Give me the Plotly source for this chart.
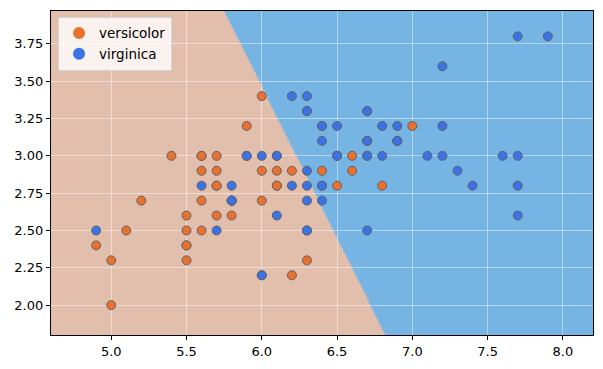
import numpy as np
import plotly.graph_objects as go

# Iris: sepal length / sepal width
versicolor_x = [7.0, 6.4, 6.9, 5.5, 6.5, 5.7, 6.3, 4.9, 6.6, 5.2, 5.0, 5.9, 6.0, 6.1, 5.6, 6.7, 5.6, 5.8, 6.2, 5.6,
                5.9, 6.1, 6.3, 6.1, 6.4, 6.6, 6.8, 6.7, 6.0, 5.7, 5.5, 5.5, 5.8, 6.0, 5.4, 6.0, 6.7, 6.3, 5.6, 5.5,
                5.5, 6.1, 5.8, 5.0, 5.6, 5.7, 5.7, 6.2, 5.1, 5.7]
versicolor_y = [3.2, 3.2, 3.1, 2.3, 2.8, 2.8, 3.3, 2.4, 2.9, 2.7, 2.0, 3.0, 2.2, 2.9, 2.9, 3.1, 3.0, 2.7, 2.2, 2.5,
                3.2, 2.8, 2.5, 2.8, 2.9, 3.0, 2.8, 3.0, 2.9, 2.6, 2.4, 2.4, 2.7, 2.7, 3.0, 3.4, 3.1, 2.3, 3.0, 2.5,
                2.6, 3.0, 2.6, 2.3, 2.7, 3.0, 2.9, 2.9, 2.5, 2.8]
virginica_x = [6.3, 5.8, 7.1, 6.3, 6.5, 7.6, 4.9, 7.3, 6.7, 7.2, 6.5, 6.4, 6.8, 5.7, 5.8, 6.4, 6.5, 7.7, 7.7, 6.0,
               6.9, 5.6, 7.7, 6.3, 6.7, 7.2, 6.2, 6.1, 6.4, 7.2, 7.4, 7.9, 6.4, 6.3, 6.1, 7.7, 6.3, 6.4, 6.0, 6.9,
               6.7, 6.9, 5.8, 6.8, 6.7, 6.7, 6.3, 6.5, 6.2, 5.9]
virginica_y = [3.3, 2.7, 3.0, 2.9, 3.0, 3.0, 2.5, 2.9, 2.5, 3.6, 3.2, 2.7, 3.0, 2.5, 2.8, 3.2, 3.0, 3.8, 2.6, 2.2,
               3.2, 2.8, 2.8, 2.7, 3.3, 3.2, 2.8, 3.0, 2.8, 3.0, 2.8, 3.8, 2.8, 2.8, 2.6, 3.0, 3.4, 3.1, 3.0, 3.1,
               3.1, 3.1, 2.7, 3.2, 3.3, 3.0, 2.5, 3.0, 3.4, 3.0]

class_names = ["versicolor", "virginica"]

# linear decision function: w0 + w1*x + w2*y > 0 -> virginica
w0, w1, w2 = -7.70, 1.0, 0.4926
mesh_step = 0.01
x_min, x_max = 4.6, 8.2
y_min, y_max = 1.8, 3.97

x_ticks = [5.0, 5.5, 6.0, 6.5, 7.0, 7.5, 8.0]
y_ticks = [2.00, 2.25, 2.50, 2.75, 3.00, 3.25, 3.50, 3.75]

region_colors = ["#E2BEAC", "#75B4E3"]
point_colors = ["#E8712F", "#3A72E8"]

# staircase boundary of the virginica region from the mesh classification
gx = np.arange(x_min, x_max + mesh_step, mesh_step)
gy = np.arange(y_min, y_max + mesh_step, mesh_step)
pts = []
for yv in gy:
    pos = np.where(w0 + w1 * gx + w2 * yv > 0)[0]
    xb = gx[pos[0]] if len(pos) else x_max
    pts.append((xb, yv))
    pts.append((xb, yv + mesh_step))
path = f"M {x_max + 1},{y_min - 1} L {pts[0][0]},{y_min - 1} "
path += " ".join(f"L {px:.4f},{py:.4f}" for px, py in pts)
path += f" L {pts[-1][0]},{y_max + 1} L {x_max + 1},{y_max + 1} Z"

fig = go.Figure()

for name, xs, ys, c in [(class_names[0], versicolor_x, versicolor_y, point_colors[0]),
                        (class_names[1], virginica_x, virginica_y, point_colors[1])]:
    fig.add_trace(go.Scatter(
        x=xs, y=ys, mode="markers", name=name, showlegend=False,
        marker=dict(size=9, color=c, line=dict(color="#626262", width=1)),
    ))
# legend entries (plain dots, no outline)
for name, c in zip(class_names, point_colors):
    fig.add_trace(go.Scatter(
        x=[None], y=[None], mode="markers", name=name,
        marker=dict(size=9, color=c, line=dict(width=0)),
    ))

fig.add_shape(type="path", path=path, xref="x", yref="y", layer="below",
              fillcolor=region_colors[1], line=dict(width=0))

fig.update_layout(
    width=595, height=361,
    margin=dict(l=43, r=10, t=3, b=34),
    paper_bgcolor="white", plot_bgcolor=region_colors[0],
    font=dict(family="DejaVu Sans", size=13, color="black"),
    showlegend=True,
    legend=dict(
        x=0.013, y=0.982, xanchor="left", yanchor="top",
        bgcolor="rgba(255,255,255,0.8)", bordercolor="#d6d6d6", borderwidth=1,
        font=dict(size=13.5), itemsizing="constant",
        tracegroupgap=2,
    ),
)
fig.update_xaxes(
    range=[x_min, x_max], tickvals=x_ticks, ticktext=[f"{v:.1f}" for v in x_ticks],
    showgrid=True, gridcolor="rgba(255,255,255,0.45)", gridwidth=1,
    ticks="outside", ticklen=4, tickcolor="black",
    showline=True, linecolor="black", linewidth=1.2, mirror=True, zeroline=False,
    automargin=False,
)
fig.update_yaxes(
    range=[y_min, y_max], tickvals=y_ticks, ticktext=[f"{v:.2f}" for v in y_ticks],
    showgrid=True, gridcolor="rgba(255,255,255,0.45)", gridwidth=1,
    ticks="outside", ticklen=4, tickcolor="black",
    showline=True, linecolor="black", linewidth=1.2, mirror=True, zeroline=False,
    automargin=False,
)

fig.write_html("out.html")
